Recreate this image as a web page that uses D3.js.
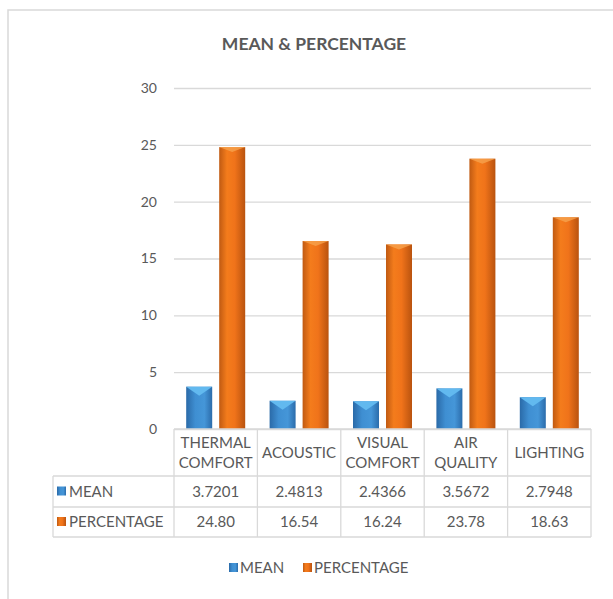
<!DOCTYPE html>
<html>
<head>
<meta charset="utf-8">
<script src="https://cdn.jsdelivr.net/npm/d3@7"></script>
<style>
  body { margin: 0; background: #fff; }
  text { font-family: Lato, "Open Sans", sans-serif; fill: #595959; }
</style>
</head>
<body>
<div id="wrapper"></div>
<script>
// chart data
const categories = ["THERMAL COMFORT", "ACOUSTIC", "VISUAL COMFORT", "AIR QUALITY", "LIGHTING"];
const labelLines = [["THERMAL", "COMFORT"], ["ACOUSTIC"], ["VISUAL", "COMFORT"], ["AIR", "QUALITY"], ["LIGHTING"]];
const meanValues = [3.7201, 2.4813, 2.4366, 3.5672, 2.7948];
const percentValues = [24.80, 16.54, 16.24, 23.78, 18.63];
const seriesNames = ["MEAN", "PERCENTAGE"];
const yTicks = [0, 5, 10, 15, 20, 25, 30];

const width = 613, height = 599;
const plot = { left: 174, right: 591, top: 88, bottom: 429 };
const rowH = [47, 31, 30];
const rowLabelLeft = 53;

const svg = d3.select("#wrapper").append("svg")
    .attr("width", width)
    .attr("height", height);

const defs = svg.append("defs");
const blueGrad = defs.append("linearGradient").attr("id", "blueGrad");
blueGrad.append("stop").attr("offset", "0%").attr("stop-color", "#2a6aa8");
blueGrad.append("stop").attr("offset", "35%").attr("stop-color", "#3f8fd2");
blueGrad.append("stop").attr("offset", "70%").attr("stop-color", "#4596d8");
blueGrad.append("stop").attr("offset", "100%").attr("stop-color", "#2b6cab");
const orGrad = defs.append("linearGradient").attr("id", "orGrad");
orGrad.append("stop").attr("offset", "0%").attr("stop-color", "#c05a12");
orGrad.append("stop").attr("offset", "30%").attr("stop-color", "#f47c1c");
orGrad.append("stop").attr("offset", "60%").attr("stop-color", "#f0731a");
orGrad.append("stop").attr("offset", "100%").attr("stop-color", "#b9530f");

// outer chart border
svg.append("rect")
    .attr("x", 8).attr("y", 10)
    .attr("width", 620).attr("height", 620)
    .attr("fill", "none")
    .attr("stroke", "#d9d9d9")
    .attr("stroke-width", 1.5);

svg.append("text")
    .attr("x", 314).attr("y", 50)
    .attr("text-anchor", "middle")
    .attr("font-size", "17.5px")
    .attr("font-weight", "bold")
    .text("MEAN & PERCENTAGE");

const x = d3.scaleBand()
    .domain(categories)
    .range([plot.left, plot.right]);

const y = d3.scaleLinear()
    .domain([0, 30])
    .range([plot.bottom, plot.top]);

// gridlines + y labels
const yAxis = svg.append("g")
    .attr("transform", `translate(${plot.left},0)`)
    .call(d3.axisLeft(y).tickValues(yTicks).tickSize(-(plot.right - plot.left)).tickPadding(17));
yAxis.select(".domain").remove();
yAxis.selectAll(".tick line").attr("stroke", "#d9d9d9").attr("stroke-width", 1.3);
yAxis.selectAll(".tick text")
    .attr("font-size", "14px")
    .attr("fill", "#595959")
    .style("font-family", "Lato, 'Open Sans', sans-serif");

const barW = 26, offset = 16.5;
const series = [
    { name: "MEAN", values: meanValues, fill: "url(#blueGrad)", cap: "#62b9ef", dx: -offset },
    { name: "PERCENTAGE", values: percentValues, fill: "url(#orGrad)", cap: "#f6a24e", dx: offset }
];

series.forEach(s => {
    const g = svg.append("g");
    const cx = (d, i) => x(categories[i]) + x.bandwidth() / 2 + s.dx;
    g.selectAll("rect")
        .data(s.values)
        .join("rect")
        .attr("x", (d, i) => cx(d, i) - barW / 2)
        .attr("y", d => y(d))
        .attr("width", barW)
        .attr("height", d => y(0) - y(d))
        .attr("fill", s.fill);
    // bevel cap on top of each bar
    g.selectAll("path")
        .data(s.values)
        .join("path")
        .attr("d", (d, i) => {
            const c = cx(d, i), t = y(d);
            const depth = s.name === "MEAN" ? 9 : 5;
            return `M${c - barW / 2},${t}L${c + barW / 2},${t}L${c},${t + depth}Z`;
        })
        .attr("fill", s.cap)
        .attr("opacity", s.name === "MEAN" ? 1 : 0.8);
});

// data table
const tableTop = plot.bottom;
const rowY = [tableTop, tableTop + rowH[0], tableTop + rowH[0] + rowH[1], tableTop + rowH[0] + rowH[1] + rowH[2]];
const tbl = svg.append("g").attr("stroke", "#d9d9d9").attr("stroke-width", 1.3).attr("fill", "none");

// horizontal lines
tbl.append("line").attr("x1", plot.left).attr("x2", plot.right).attr("y1", rowY[0]).attr("y2", rowY[0]);
[1, 2, 3].forEach(r => {
    tbl.append("line").attr("x1", rowLabelLeft).attr("x2", plot.right).attr("y1", rowY[r]).attr("y2", rowY[r]);
});
// vertical lines
tbl.append("line").attr("x1", rowLabelLeft).attr("x2", rowLabelLeft).attr("y1", rowY[1]).attr("y2", rowY[3]);
categories.forEach(c => {
    tbl.append("line").attr("x1", x(c)).attr("x2", x(c)).attr("y1", rowY[0]).attr("y2", rowY[3]);
});
tbl.append("line").attr("x1", plot.right).attr("x2", plot.right).attr("y1", rowY[0]).attr("y2", rowY[3]);

// header labels
categories.forEach((c, i) => {
    const lines = labelLines[i];
    const cxh = x(c) + x.bandwidth() / 2;
    const mid = rowY[0] + rowH[0] / 2 + 5;
    lines.forEach((ln, j) => {
        svg.append("text")
            .attr("x", cxh)
            .attr("y", mid + (j - (lines.length - 1) / 2) * 20)
            .attr("text-anchor", "middle")
            .attr("font-size", "15px")
            .text(ln);
    });
});

const fmts = [d3.format(".4f"), d3.format(".2f")];
const swatchFill = ["url(#blueGrad)", "url(#orGrad)"];
series.forEach((s, r) => {
    const cy = rowY[r + 1] + rowH[r + 1] / 2 + 5;
    svg.append("rect")
        .attr("x", rowLabelLeft + 4).attr("y", cy - 10)
        .attr("width", 9).attr("height", 9)
        .attr("fill", swatchFill[r]);
    svg.append("text")
        .attr("x", rowLabelLeft + 16).attr("y", cy)
        .attr("font-size", "15px")
        .text(s.name);
    s.values.forEach((v, i) => {
        svg.append("text")
            .attr("x", x(categories[i]) + x.bandwidth() / 2)
            .attr("y", cy)
            .attr("text-anchor", "middle")
            .attr("font-size", "15px")
            .text(fmts[r](v));
    });
});

// legend
const legend = svg.append("g").attr("transform", "translate(229,573)");
const legX = [0, 74];
seriesNames.forEach((n, i) => {
    legend.append("rect")
        .attr("x", legX[i]).attr("y", -10)
        .attr("width", 9).attr("height", 9)
        .attr("fill", swatchFill[i]);
    legend.append("text")
        .attr("x", legX[i] + 11).attr("y", 0)
        .attr("font-size", "15px")
        .text(n);
});
</script>
</body>
</html>
